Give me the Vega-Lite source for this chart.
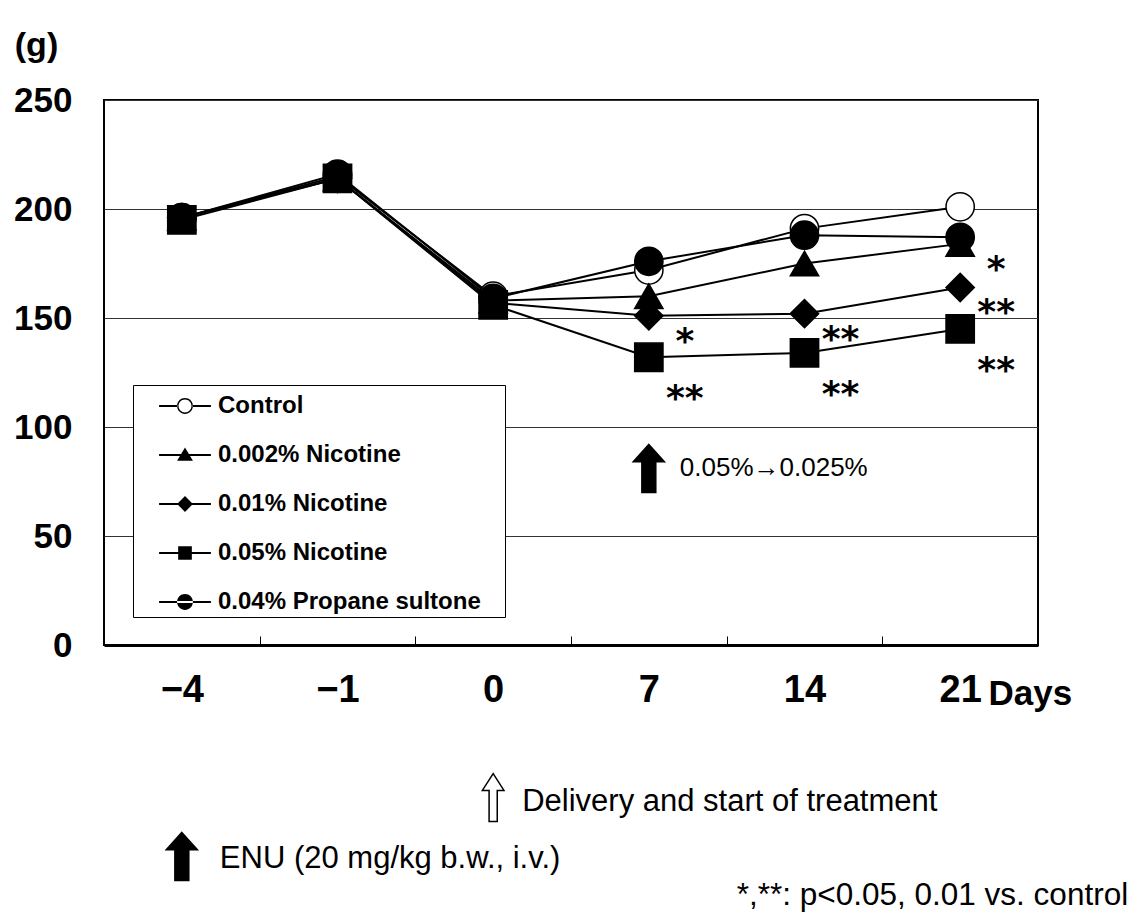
{
  "$schema": "https://vega.github.io/schema/vega-lite/v6.json",
  "autosize": {"type": "none"},
  "padding": {"left": 104, "top": 100, "right": 94, "bottom": 274},
  "width": 934,
  "height": 545,
  "background": "white",
  "config": {
    "font": "Liberation Sans",
    "view": {"stroke": "black", "strokeWidth": 2},
    "text": {"color": "black"}
  },
  "datasets": {
    "weights": [
      {"group": "Control", "day": "-4", "weight": 196, "sig": ""},
      {"group": "Control", "day": "-1", "weight": 215, "sig": ""},
      {"group": "Control", "day": "0", "weight": 160, "sig": ""},
      {"group": "Control", "day": "7", "weight": 172, "sig": ""},
      {"group": "Control", "day": "14", "weight": 191, "sig": ""},
      {"group": "Control", "day": "21", "weight": 201, "sig": ""},
      {"group": "0.002% Nicotine", "day": "-4", "weight": 196, "sig": ""},
      {"group": "0.002% Nicotine", "day": "-1", "weight": 214, "sig": ""},
      {"group": "0.002% Nicotine", "day": "0", "weight": 158, "sig": ""},
      {"group": "0.002% Nicotine", "day": "7", "weight": 160, "sig": ""},
      {"group": "0.002% Nicotine", "day": "14", "weight": 175, "sig": ""},
      {"group": "0.002% Nicotine", "day": "21", "weight": 184, "sig": "*"},
      {"group": "0.01% Nicotine", "day": "-4", "weight": 196, "sig": ""},
      {"group": "0.01% Nicotine", "day": "-1", "weight": 214, "sig": ""},
      {"group": "0.01% Nicotine", "day": "0", "weight": 157, "sig": ""},
      {"group": "0.01% Nicotine", "day": "7", "weight": 151, "sig": "*"},
      {"group": "0.01% Nicotine", "day": "14", "weight": 152, "sig": "**"},
      {"group": "0.01% Nicotine", "day": "21", "weight": 164, "sig": "**"},
      {"group": "0.05% Nicotine", "day": "-4", "weight": 195, "sig": ""},
      {"group": "0.05% Nicotine", "day": "-1", "weight": 214, "sig": ""},
      {"group": "0.05% Nicotine", "day": "0", "weight": 156, "sig": ""},
      {"group": "0.05% Nicotine", "day": "7", "weight": 132, "sig": "**"},
      {"group": "0.05% Nicotine", "day": "14", "weight": 134, "sig": "**"},
      {"group": "0.05% Nicotine", "day": "21", "weight": 145, "sig": "**"},
      {"group": "0.04% Propane sultone", "day": "-4", "weight": 196, "sig": ""},
      {"group": "0.04% Propane sultone", "day": "-1", "weight": 216, "sig": ""},
      {"group": "0.04% Propane sultone", "day": "0", "weight": 159, "sig": ""},
      {"group": "0.04% Propane sultone", "day": "7", "weight": 176, "sig": ""},
      {"group": "0.04% Propane sultone", "day": "14", "weight": 188, "sig": ""},
      {"group": "0.04% Propane sultone", "day": "21", "weight": 187, "sig": ""}
    ],
    "arrows": [
      {"event": "dose change", "day": "7", "weight": 81, "kind": "filled"},
      {"event": "delivery", "day": "0", "weight": -70, "kind": "hollow"},
      {"event": "ENU", "day": "-4", "weight": -97, "kind": "filled"}
    ],
    "notes": [
      {"note": "0.05%\u21920.025%", "day": "7", "weight": 81},
      {"note": "Delivery and start of treatment", "day": "0", "weight": -72},
      {"note": "ENU (20  mg/kg b.w., i.v.)", "day": "-4", "weight": -98},
      {"note": "*,**: p<0.05, 0.01 vs. control", "day": "21", "weight": -115}
    ]
  },
  "data": {"name": "weights"},
  "encoding": {
    "x": {
      "field": "day",
      "type": "nominal",
      "sort": ["-4", "-1", "0", "7", "14", "21"],
      "scale": {"type": "band", "domain": ["-4", "-1", "0", "7", "14", "21"], "paddingInner": 0, "paddingOuter": 0},
      "axis": {
        "title": "Days",
        "titleFont": "Liberation Sans",
        "titleFontSize": 35,
        "titleFontWeight": "bold",
        "titleColor": "black",
        "titleX": 884,
        "titleY": 59,
        "titleAlign": "left",
        "titleBaseline": "alphabetic",
        "labelExpr": "replace(datum.label, '-', '\u2212')",
        "labelFont": "Liberation Sans",
        "labelFontSize": 38,
        "labelFontWeight": "bold",
        "labelColor": "black",
        "labelAngle": 0,
        "labelBaseline": "alphabetic",
        "labelPadding": 65,
        "tickBand": "extent",
        "tickSize": -9,
        "tickColor": "black",
        "tickWidth": 1,
        "domainColor": "black",
        "domainWidth": 3,
        "grid": false
      }
    },
    "y": {
      "field": "weight",
      "type": "quantitative",
      "scale": {"domain": [0, 250], "nice": false, "zero": true},
      "axis": {
        "values": [0, 50, 100, 150, 200, 250],
        "title": "(g)",
        "titleAngle": 0,
        "titleX": -68,
        "titleY": -55,
        "titleAlign": "center",
        "titleBaseline": "middle",
        "titleFont": "Liberation Sans",
        "titleFontSize": 34,
        "titleFontWeight": "bold",
        "titleColor": "black",
        "labelFont": "Liberation Sans",
        "labelFontSize": 35,
        "labelFontWeight": "bold",
        "labelColor": "black",
        "labelPadding": 32,
        "ticks": false,
        "domain": false,
        "grid": true,
        "gridColor": "#333333",
        "gridWidth": 1
      }
    }
  },
  "layer": [
    {
      "mark": {"type": "line", "color": "black", "strokeWidth": 2},
      "encoding": {"detail": {"field": "group"}}
    },
    {
      "mark": {"type": "point", "filled": true, "stroke": "black", "strokeWidth": 1.5, "size": 800, "opacity": 1},
      "encoding": {
        "shape": {
          "field": "group",
          "scale": {
            "domain": ["Control", "0.002% Nicotine", "0.01% Nicotine", "0.05% Nicotine", "0.04% Propane sultone"],
            "range": ["circle", "triangle-up", "diamond", "square", "circle"]
          },
          "legend": null
        },
        "fill": {
          "field": "group",
          "scale": {
            "domain": ["Control", "0.002% Nicotine", "0.01% Nicotine", "0.05% Nicotine", "0.04% Propane sultone"],
            "range": ["white", "black", "black", "black", "black"]
          },
          "legend": null
        }
      }
    },
    {
      "mark": {"type": "point", "filled": true, "color": "black", "opacity": 0, "strokeWidth": 0},
      "encoding": {
        "shape": {
          "field": "group",
          "scale": {
            "domain": ["Control", "0.002% Nicotine", "0.01% Nicotine", "0.05% Nicotine", "0.04% Propane sultone"],
            "range": [
              "M-1.44,-0.055H-0.42V0.055H-1.44Z M0.42,-0.055H1.44V0.055H0.42Z M-0.44,0A0.44,0.44 0 1,0 0.44,0A0.44,0.44 0 1,0 -0.44,0Z M-0.36,0A0.36,0.36 0 1,1 0.36,0A0.36,0.36 0 1,1 -0.36,0Z M17.6,0Z",
              "M-1.44,-0.055H1.44V0.055H-1.44Z M0,-0.42L0.44,0.32L-0.44,0.32Z M17.6,0Z",
              "M-1.44,-0.055H1.44V0.055H-1.44Z M0,-0.44L0.44,0L0,0.44L-0.44,0Z M17.6,0Z",
              "M-1.44,-0.055H1.44V0.055H-1.44Z M-0.38,-0.38H0.38V0.38H-0.38Z M17.6,0Z",
              "M-1.44,-0.055H1.44V0.055H-1.44Z M-0.44,0A0.44,0.44 0 1,0 0.44,0A0.44,0.44 0 1,0 -0.44,0Z M17.6,0Z"
            ]
          },
          "legend": {
            "title": null,
            "orient": "none",
            "legendX": 29,
            "legendY": 285,
            "padding": 3,
            "strokeColor": "black",
            "fillColor": "white",
            "symbolSize": 1296,
            "symbolStrokeWidth": 0,
            "symbolOpacity": 1,
            "symbolOffset": 31,
            "labelOffset": 15,
            "rowPadding": 19,
            "labelFont": "Liberation Sans",
            "labelFontSize": 24,
            "labelFontWeight": "bold",
            "labelColor": "black",
            "labelLimit": 0
          }
        }
      }
    },
    {
      "transform": [
        {"filter": {"field": "sig", "oneOf": ["*", "**"]}},
        {"filter": {"not": {"field": "group", "equal": "0.05% Nicotine"}}}
      ],
      "mark": {"type": "text", "font": "DejaVu Sans", "fontWeight": "bold", "fontSize": 36, "align": "center", "baseline": "alphabetic", "dx": 36, "dy": 37},
      "encoding": {"text": {"field": "sig"}}
    },
    {
      "transform": [
        {"filter": {"field": "sig", "oneOf": ["*", "**"]}},
        {"filter": {"field": "group", "equal": "0.05% Nicotine"}}
      ],
      "mark": {"type": "text", "font": "DejaVu Sans", "fontWeight": "bold", "fontSize": 36, "align": "center", "baseline": "alphabetic", "dx": 36, "dy": 53},
      "encoding": {"text": {"field": "sig"}}
    },
    {
      "data": {"name": "arrows"},
      "mark": {"type": "point", "filled": true, "stroke": "black", "strokeWidth": 1.5, "opacity": 1, "size": 2304},
      "encoding": {
        "shape": {
          "field": "kind",
          "scale": {
            "domain": ["filled", "hollow"],
            "range": [
              "M0,-1L0.65,-0.28L0.29,-0.28L0.29,1L-0.29,1L-0.29,-0.28L-0.65,-0.28Z",
              "M0,-1L0.45,-0.3L0.17,-0.3L0.17,1L-0.17,1L-0.17,-0.3L-0.45,-0.3Z"
            ]
          },
          "legend": null
        },
        "fill": {
          "field": "kind",
          "scale": {"domain": ["filled", "hollow"], "range": ["black", "white"]},
          "legend": null
        }
      }
    },
    {
      "data": {"name": "notes"},
      "transform": [{"filter": {"field": "note", "equal": "0.05%\u21920.025%"}}],
      "mark": {"type": "text", "font": "Liberation Sans", "fontSize": 26, "align": "left", "baseline": "middle", "dx": 31},
      "encoding": {"text": {"field": "note"}}
    },
    {
      "data": {"name": "notes"},
      "transform": [{"filter": {"field": "note", "equal": "Delivery and start of treatment"}}],
      "mark": {"type": "text", "font": "Liberation Sans", "fontSize": 31, "align": "left", "baseline": "middle", "dx": 29},
      "encoding": {"text": {"field": "note"}}
    },
    {
      "data": {"name": "notes"},
      "transform": [{"filter": {"field": "note", "equal": "ENU (20  mg/kg b.w., i.v.)"}}],
      "mark": {"type": "text", "font": "Liberation Sans", "fontSize": 31, "align": "left", "baseline": "middle", "dx": 38},
      "encoding": {"text": {"field": "note"}}
    },
    {
      "data": {"name": "notes"},
      "transform": [{"filter": {"field": "note", "equal": "*,**: p<0.05, 0.01 vs. control"}}],
      "mark": {"type": "text", "font": "Liberation Sans", "fontSize": 31.5, "align": "right", "baseline": "middle", "dx": 168},
      "encoding": {"text": {"field": "note"}}
    }
  ],
  "resolve": {"scale": {"shape": "independent", "fill": "independent"}}
}
